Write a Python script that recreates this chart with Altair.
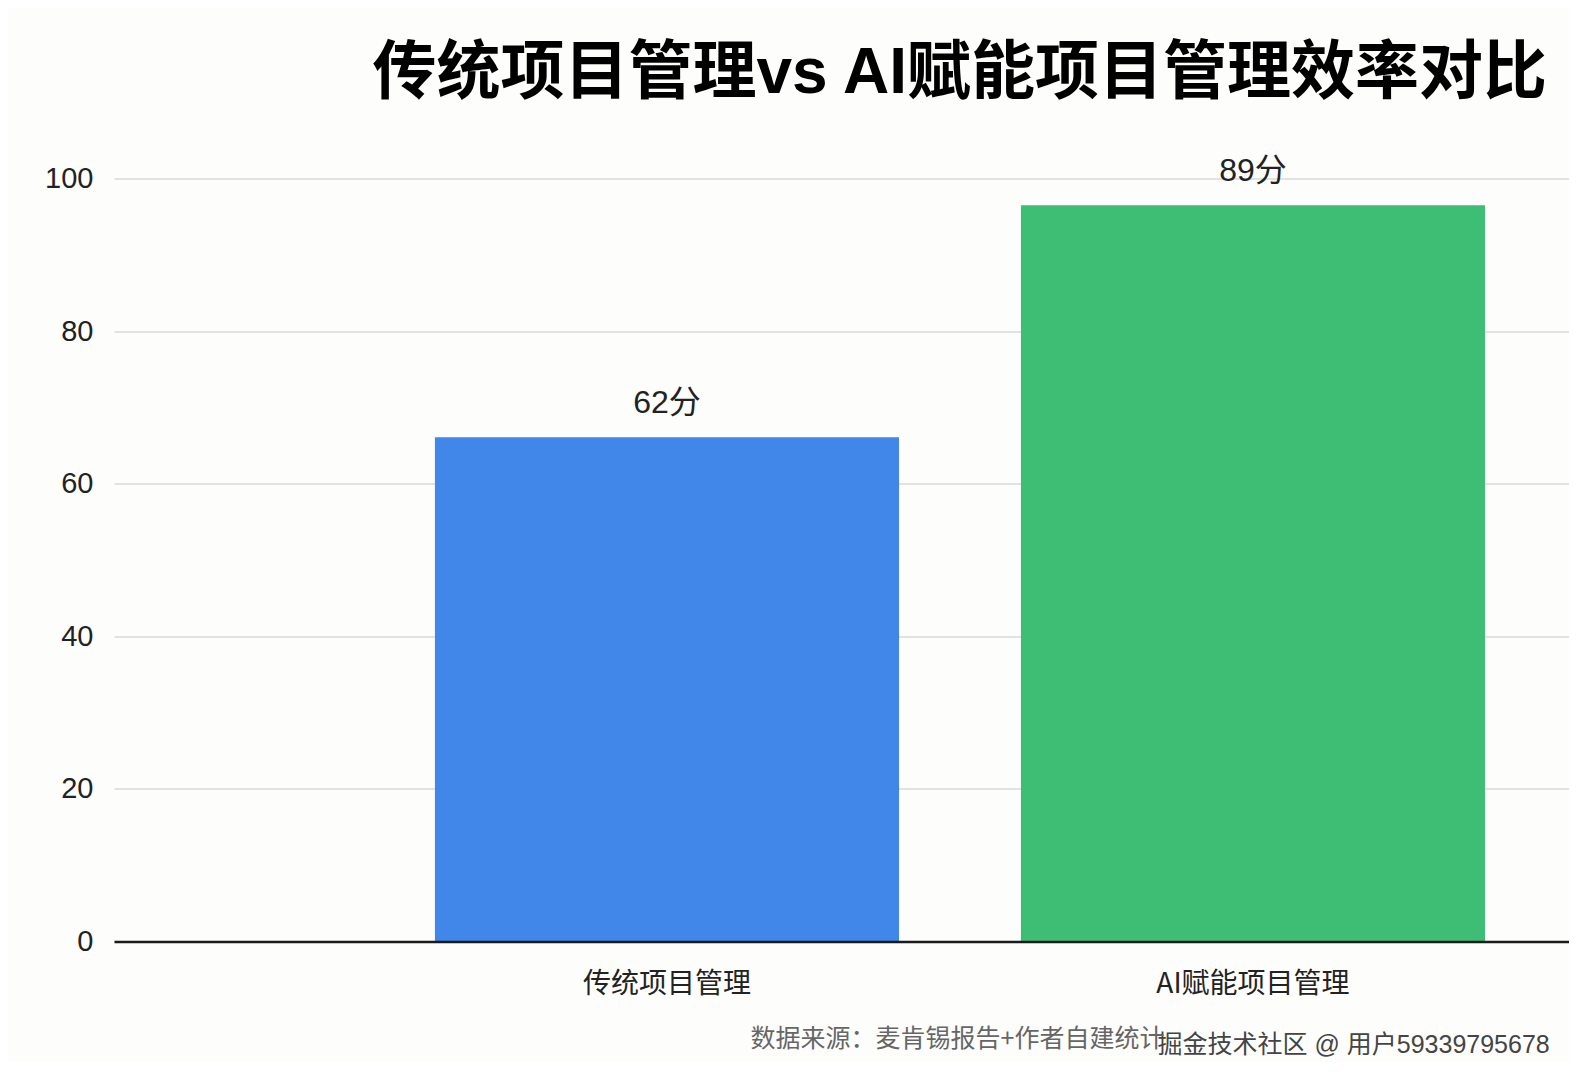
import altair as alt
import pandas as pd

categories = ["传统项目管理", "AI赋能项目管理"]
bar_heights = [66.1, 96.5]
value_labels = ["62分", "89分"]
bar_colors = ["#4187EA", "#3DBE74"]
y_ticks = [0, 20, 40, 60, 80, 100]
title_text = "传统项目管理vs AI赋能项目管理效率对比"
source_text = "数据来源：麦肯锡报告+作者自建统计"
watermark_text = "掘金技术社区 @ 用户59339795678"

LATIN_CJK = "Liberation Sans, Noto Sans CJK SC"
CJK = "Noto Sans CJK SC"

df = pd.DataFrame({
    "category": categories,
    "height": bar_heights,
    "label": value_labels,
    "color": bar_colors,
})

x = alt.X(
    "category:N",
    sort=categories,
    scale=alt.Scale(paddingInner=0.208, paddingOuter=0.3455, align=0.7926),
    axis=alt.Axis(
        title=source_text,
        labelAngle=0,
        labelFontSize=28,
        labelFont=CJK,
        labelColor="#222222",
        labelPadding=29,
        labelLimit=0,
        ticks=False,
        domainColor="#1a1a1a",
        domainWidth=2.5,
        zindex=1,
        titleX=636,
        titleY=97,
        titleAlign="left",
        titleBaseline="middle",
        titleFontSize=25,
        titleFont=CJK,
        titleFontWeight="normal",
        titleColor="#666666",
    ),
)

y = alt.Y(
    "height:Q",
    scale=alt.Scale(domain=[0, 100], nice=False),
    axis=alt.Axis(
        values=y_ticks,
        title=watermark_text,
        titleAngle=0,
        titleX=1043,
        titleY=865.5,
        titleAlign="left",
        titleBaseline="middle",
        titleFontSize=25,
        titleFont=LATIN_CJK,
        titleFontWeight="normal",
        titleColor="#444444",
        labelFontSize=29,
        labelFont="Liberation Sans",
        labelColor="#222222",
        labelPadding=21,
        ticks=False,
        domain=False,
        gridColor="#d9d9d9",
        gridWidth=1.5,
        zindex=0,
    ),
)

bars = alt.Chart(df).mark_bar().encode(
    x=x,
    y=y,
    color=alt.Color("color:N", scale=None, legend=None),
)

labels = alt.Chart(df).mark_text(
    dy=-24,
    baseline="alphabetic",
    fontSize=32,
    font=LATIN_CJK,
    color="#222222",
).encode(x=x, y=y, text="label:N")

chart = (
    alt.layer(bars, labels)
    .properties(
        width=1455,
        height=763,
        autosize=alt.AutoSizeParams(type="none"),
        padding={"left": 106, "top": 170.5, "right": 0, "bottom": 120},
        background="#fdfdfb",
        title=alt.TitleParams(
            text=title_text,
            anchor="end",
            frame="group",
            dx=-22,
            dy=4,
            offset=2,
            baseline="alphabetic",
            fontSize=64,
            font=LATIN_CJK,
            fontWeight="bold",
            color="#000000",
        ),
    )
    .configure_view(stroke=None)
)

chart.save("out.html", embed_options={"renderer": "svg", "actions": False})
